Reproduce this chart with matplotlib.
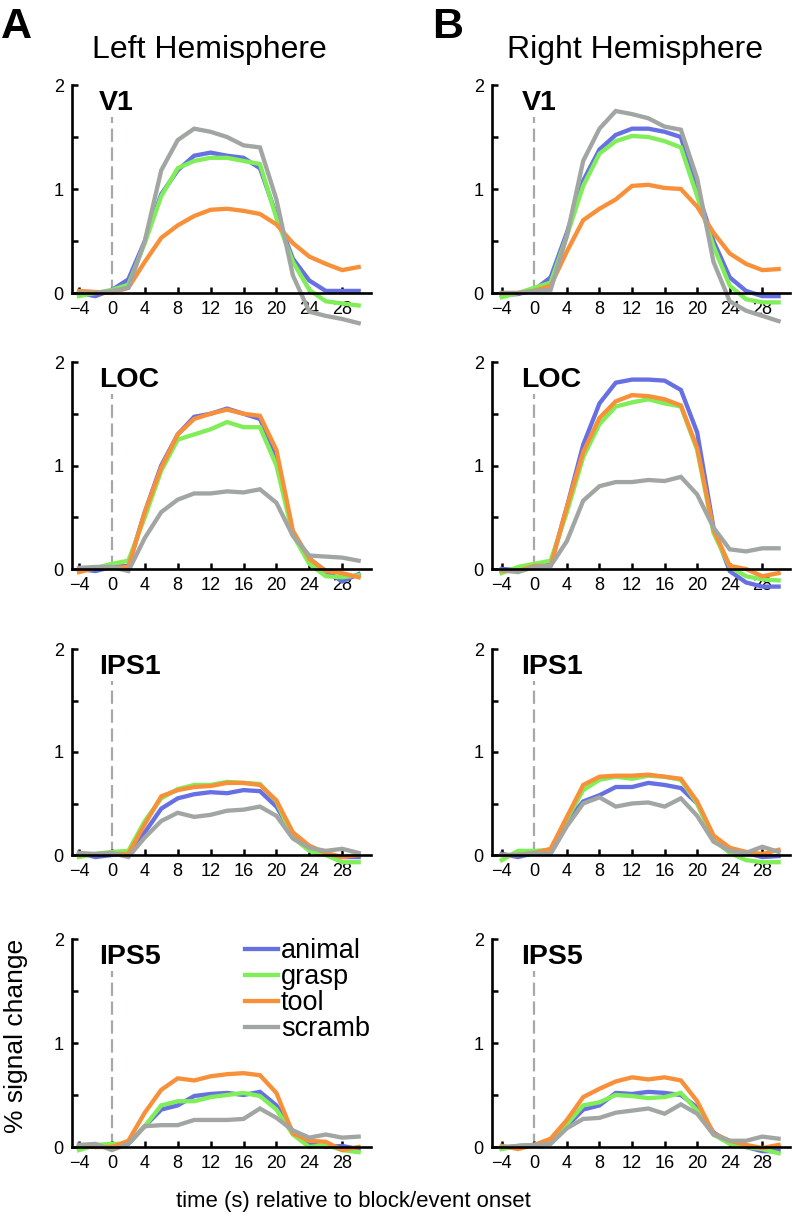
import matplotlib
matplotlib.use("Agg")
import matplotlib.pyplot as plt
from matplotlib import font_manager
import numpy as np

plt.rcParams['font.family'] = ['Liberation Sans', 'DejaVu Sans']
_names = {f.name for f in font_manager.fontManager.ttflist}
NARROW = ['Liberation Sans Narrow', 'Liberation Sans'] if 'Liberation Sans Narrow' in _names else ['Liberation Sans']
narrow_scale = 1.0 if 'Liberation Sans Narrow' in _names else 0.84

time_s = [-4, -2, 0, 2, 4, 6, 8, 10, 12, 14, 16, 18, 20, 22, 24, 26, 28, 30]
conditions = ['animal', 'grasp', 'tool', 'scramb']
regions = ['V1', 'LOC', 'IPS1', 'IPS5']
hemispheres = ['Left Hemisphere', 'Right Hemisphere']
panel_letters = ['A', 'B']
x_ticks = [-4, 0, 4, 8, 12, 16, 20, 24, 28]
y_ticks = [0, 0.5, 1, 1.5, 2]
y_tick_labels = ['0', '', '1', '', '2']

# ---- Left hemisphere ----
L_V1_animal = [0.0, -0.03, 0.03, 0.13, 0.5, 0.95, 1.18, 1.32, 1.35, 1.32, 1.3, 1.2, 0.75, 0.33, 0.12, 0.02, 0.02, 0.02]
L_V1_grasp = [-0.03, 0.0, 0.03, 0.08, 0.48, 0.93, 1.2, 1.27, 1.3, 1.3, 1.27, 1.24, 0.72, 0.3, 0.03, -0.08, -0.1, -0.12]
L_V1_tool = [0.02, 0.01, 0.0, 0.05, 0.3, 0.53, 0.65, 0.74, 0.8, 0.81, 0.79, 0.76, 0.66, 0.48, 0.35, 0.28, 0.22, 0.25]
L_V1_scramb = [0.0, 0.0, 0.02, 0.05, 0.5, 1.18, 1.47, 1.58, 1.55, 1.5, 1.42, 1.4, 0.9, 0.17, -0.18, -0.22, -0.25, -0.29]

L_LOC_animal = [0.0, -0.02, 0.02, 0.03, 0.55, 1.0, 1.3, 1.47, 1.5, 1.55, 1.5, 1.45, 1.1, 0.35, 0.1, -0.02, -0.12, -0.05]
L_LOC_grasp = [-0.02, 0.01, 0.05, 0.08, 0.5, 0.95, 1.25, 1.3, 1.35, 1.42, 1.37, 1.37, 1.0, 0.33, 0.05, -0.07, -0.08, -0.06]
L_LOC_tool = [-0.03, 0.01, 0.01, 0.02, 0.55, 0.98, 1.3, 1.45, 1.5, 1.54, 1.5, 1.48, 1.15, 0.37, 0.1, -0.02, -0.04, -0.08]
L_LOC_scramb = [0.01, 0.02, 0.02, -0.02, 0.3, 0.55, 0.67, 0.73, 0.73, 0.75, 0.74, 0.77, 0.64, 0.32, 0.13, 0.12, 0.11, 0.08]

L_IPS1_animal = [0.02, -0.02, 0.0, 0.03, 0.22, 0.45, 0.55, 0.59, 0.61, 0.6, 0.63, 0.62, 0.47, 0.2, 0.07, 0.01, -0.02, -0.02]
L_IPS1_grasp = [-0.02, 0.01, 0.03, 0.04, 0.33, 0.55, 0.64, 0.68, 0.68, 0.71, 0.7, 0.69, 0.52, 0.17, 0.04, 0.0, -0.07, -0.07]
L_IPS1_tool = [0.0, 0.01, 0.01, 0.01, 0.3, 0.57, 0.63, 0.66, 0.67, 0.7, 0.7, 0.68, 0.53, 0.22, 0.09, 0.02, -0.02, 0.0]
L_IPS1_scramb = [0.02, 0.01, 0.02, -0.02, 0.17, 0.33, 0.41, 0.37, 0.39, 0.43, 0.44, 0.47, 0.38, 0.16, 0.07, 0.04, 0.06, 0.02]

L_IPS5_animal = [0.02, 0.0, 0.01, 0.03, 0.2, 0.36, 0.4, 0.49, 0.51, 0.52, 0.5, 0.53, 0.4, 0.15, 0.03, 0.0, 0.01, -0.02]
L_IPS5_grasp = [-0.03, 0.02, 0.03, 0.03, 0.2, 0.4, 0.44, 0.44, 0.48, 0.5, 0.52, 0.49, 0.36, 0.12, 0.0, 0.02, -0.03, -0.05]
L_IPS5_tool = [0.02, 0.0, 0.0, 0.06, 0.33, 0.55, 0.66, 0.64, 0.68, 0.7, 0.71, 0.69, 0.52, 0.13, 0.06, 0.05, -0.03, 0.0]
L_IPS5_scramb = [0.02, 0.03, -0.03, 0.03, 0.2, 0.21, 0.21, 0.26, 0.26, 0.26, 0.27, 0.37, 0.28, 0.16, 0.09, 0.12, 0.09, 0.1]

# ---- Right hemisphere ----
R_V1_animal = [-0.02, -0.01, 0.03, 0.15, 0.58, 1.08, 1.38, 1.52, 1.58, 1.58, 1.55, 1.5, 0.98, 0.5, 0.15, 0.02, -0.03, -0.03]
R_V1_grasp = [-0.04, 0.0, 0.05, 0.1, 0.55, 1.03, 1.34, 1.46, 1.51, 1.5, 1.46, 1.4, 0.93, 0.45, 0.07, -0.06, -0.09, -0.09]
R_V1_tool = [0.0, 0.0, 0.02, 0.07, 0.4, 0.7, 0.81, 0.9, 1.03, 1.04, 1.01, 1.0, 0.83, 0.58, 0.38, 0.28, 0.22, 0.23]
R_V1_scramb = [0.0, 0.0, 0.02, 0.03, 0.55, 1.27, 1.58, 1.75, 1.72, 1.68, 1.6, 1.57, 1.1, 0.3, -0.08, -0.17, -0.22, -0.27]

R_LOC_animal = [0.0, -0.01, 0.03, 0.04, 0.6, 1.2, 1.6, 1.8, 1.83, 1.83, 1.82, 1.73, 1.32, 0.4, -0.02, -0.13, -0.17, -0.17]
R_LOC_grasp = [-0.04, 0.02, 0.05, 0.08, 0.55, 1.08, 1.4, 1.57, 1.61, 1.64, 1.6, 1.57, 1.15, 0.35, 0.02, -0.07, -0.1, -0.11]
R_LOC_tool = [-0.02, -0.02, 0.03, 0.03, 0.6, 1.13, 1.46, 1.62, 1.68, 1.67, 1.64, 1.58, 1.17, 0.38, 0.03, 0.0, -0.07, -0.04]
R_LOC_scramb = [-0.01, -0.03, 0.02, 0.03, 0.27, 0.66, 0.8, 0.84, 0.84, 0.86, 0.85, 0.89, 0.72, 0.4, 0.19, 0.17, 0.2, 0.2]

R_IPS1_animal = [0.01, -0.02, 0.02, 0.05, 0.33, 0.52, 0.58, 0.66, 0.66, 0.7, 0.68, 0.65, 0.5, 0.18, 0.06, 0.02, -0.02, -0.01]
R_IPS1_grasp = [-0.05, 0.04, 0.04, 0.05, 0.35, 0.63, 0.73, 0.76, 0.74, 0.77, 0.76, 0.73, 0.5, 0.15, 0.02, -0.05, -0.07, -0.07]
R_IPS1_tool = [0.0, 0.0, 0.02, 0.06, 0.37, 0.68, 0.76, 0.77, 0.77, 0.78, 0.76, 0.74, 0.52, 0.19, 0.07, 0.03, 0.01, 0.05]
R_IPS1_scramb = [0.0, 0.0, 0.02, 0.01, 0.28, 0.5, 0.56, 0.47, 0.5, 0.51, 0.47, 0.55, 0.38, 0.13, 0.04, 0.02, 0.08, 0.03]

R_IPS5_animal = [-0.01, 0.01, 0.02, 0.05, 0.2, 0.36, 0.4, 0.52, 0.51, 0.53, 0.52, 0.5, 0.38, 0.14, 0.04, 0.0, -0.04, -0.04]
R_IPS5_grasp = [-0.02, 0.01, 0.02, 0.04, 0.22, 0.4, 0.43, 0.5, 0.49, 0.47, 0.48, 0.52, 0.35, 0.12, 0.03, 0.0, -0.02, -0.06]
R_IPS5_tool = [0.01, -0.02, 0.02, 0.08, 0.26, 0.48, 0.56, 0.63, 0.67, 0.65, 0.67, 0.64, 0.44, 0.13, 0.06, 0.02, -0.01, 0.02]
R_IPS5_scramb = [0.0, 0.01, 0.02, 0.03, 0.18, 0.27, 0.28, 0.33, 0.35, 0.37, 0.32, 0.41, 0.32, 0.12, 0.06, 0.06, 0.1, 0.08]

data = {
    0: {'V1': [L_V1_animal, L_V1_grasp, L_V1_tool, L_V1_scramb],
        'LOC': [L_LOC_animal, L_LOC_grasp, L_LOC_tool, L_LOC_scramb],
        'IPS1': [L_IPS1_animal, L_IPS1_grasp, L_IPS1_tool, L_IPS1_scramb],
        'IPS5': [L_IPS5_animal, L_IPS5_grasp, L_IPS5_tool, L_IPS5_scramb]},
    1: {'V1': [R_V1_animal, R_V1_grasp, R_V1_tool, R_V1_scramb],
        'LOC': [R_LOC_animal, R_LOC_grasp, R_LOC_tool, R_LOC_scramb],
        'IPS1': [R_IPS1_animal, R_IPS1_grasp, R_IPS1_tool, R_IPS1_scramb],
        'IPS5': [R_IPS5_animal, R_IPS5_grasp, R_IPS5_tool, R_IPS5_scramb]},
}

colors = ['#6670e2', '#80ee58', '#f8903a', '#a2a6a2']
draw_order = [0, 1, 3, 2]

W, H = 793, 1222
fig = plt.figure(figsize=(W / 100, H / 100), dpi=100)

col_left_px = [72, 492]
col_xlim = [(-4.85, 31.5), (-5.2, 31.4)]
col_width_px = [299, 298]
row_y0_px = [293, 569, 855, 1147]
row_y2_px = [85, 362, 649, 939]
ylim = (-0.33, 2.02)

tick_size = 15.5 * narrow_scale

axes = {}
for c in range(2):
    for r, reg in enumerate(regions):
        unit = (row_y0_px[r] - row_y2_px[r]) / 2.0
        top_px = row_y2_px[r] - (ylim[1] - 2) * unit
        bot_px = row_y0_px[r] - ylim[0] * unit
        ax = fig.add_axes([col_left_px[c] / W, 1 - bot_px / H,
                           col_width_px[c] / W, (bot_px - top_px) / H])
        ax.set_xlim(*col_xlim[c])
        ax.set_ylim(*ylim)
        ax.patch.set_alpha(0)
        for s in ['top', 'right']:
            ax.spines[s].set_visible(False)
        ax.spines['bottom'].set_position(('data', 0))
        ax.spines['left'].set_bounds(0, 2)
        ax.spines['left'].set_position(('data', col_xlim[c][0]))
        for s in ['left', 'bottom']:
            ax.spines[s].set_linewidth(1.9)
        ax.set_xticks(x_ticks)
        ax.set_xticklabels(['\u22124' if t == -4 else str(t) for t in x_ticks],
                           family=NARROW, fontsize=tick_size)
        ax.set_yticks(y_ticks)
        ax.set_yticklabels(y_tick_labels, family=NARROW, fontsize=tick_size)
        ax.tick_params(direction='in', length=4, width=1.8, pad=6)

        ax.plot([0, 0], [0, 1.69], color='#a6aaa6', lw=1.6, dashes=(6, 2.5), zorder=1)
        series = data[c][reg]
        lines = {}
        for i in draw_order:
            ln, = ax.plot(time_s, series[i], color=colors[i], lw=3.1,
                          solid_joinstyle='miter', clip_on=False, zorder=2 + i * 0.1,
                          label=conditions[i])
            lines[i] = ln
        ax.text(-1.6, 1.83, reg, fontsize=20.5, fontweight='bold', ha='left', va='center')
        axes[(c, r)] = (ax, lines)

ax, lines = axes[(0, 3)]
ax.legend([lines[i] for i in range(4)], conditions, loc='upper left',
          bbox_to_anchor=(245 / W, 1 - 938 / H), bbox_transform=fig.transFigure,
          frameon=False, fontsize=19.5, handlelength=1.22, handletextpad=0.1,
          labelspacing=0.0, borderpad=0.0, borderaxespad=0.0)

fig.text(209 / W, 1 - 50 / H, hemispheres[0], fontsize=23, ha='center', va='center')
fig.text(635 / W, 1 - 50 / H, hemispheres[1], fontsize=23, ha='center', va='center')
fig.text(1 / W, 1 - 27 / H, panel_letters[0], fontsize=31, fontweight='bold', ha='left', va='center')
fig.text(432 / W, 1 - 27 / H, panel_letters[1], fontsize=31, fontweight='bold', ha='left', va='center')

fig.text(16 / W, 1 - 1036 / H, '% signal change', fontsize=19, rotation=90, ha='center', va='center')
fig.text(353 / W, 1 - 1202 / H, 'time (s) relative to block/event onset', family=NARROW,
         fontsize=19 * narrow_scale, ha='center', va='center')

fig.savefig('out.png', dpi=100)
